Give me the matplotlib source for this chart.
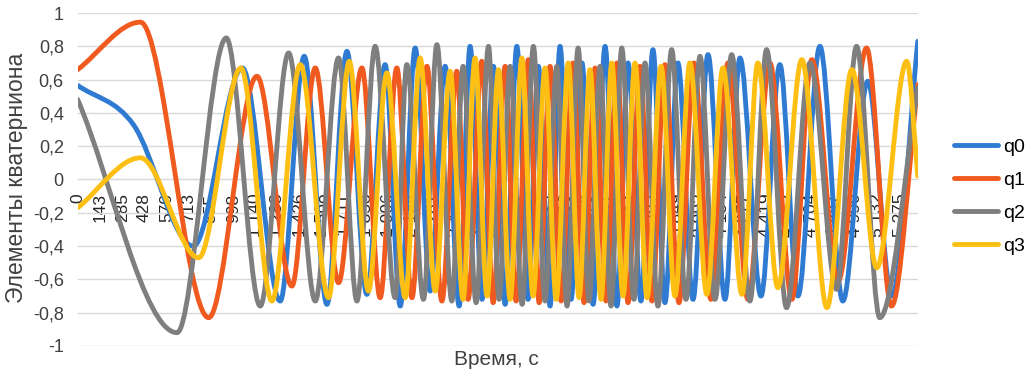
import matplotlib
matplotlib.use('Agg')
import matplotlib.pyplot as plt
from matplotlib.path import Path
from matplotlib.patches import PathPatch
from matplotlib.lines import Line2D
import numpy as np

plt.rcParams['font.family'] = ['Liberation Sans', 'DejaVu Sans']

# ---------------- data (time in s, values read at extrema) ----------------
series_names = ['q0', 'q1', 'q2', 'q3']
series_colors = ['#2f7bd2', '#f05a1e', '#7f7f7f', '#fdbf12']

q0_t = [0, 357, 742, 1056, 1299, 1453, 1599, 1727, 1855, 1972, 2069, 2165, 2261, 2357,
        2447, 2517, 2594, 2667, 2742, 2817, 2889, 2955, 3030, 3094, 3165, 3235, 3306,
        3383, 3459, 3530, 3613, 3690, 3767, 3850, 3947, 4043, 4152, 4248, 4383, 4504,
        4620, 4761, 4908, 5068, 5222, 5389]
q0_v = [0.565, 0.33, -0.40, 0.67, -0.73, 0.74, -0.75, 0.77, -0.69, 0.69, -0.76, 0.79, -0.67, 0.68,
        -0.76, 0.80, -0.72, 0.68, -0.75, 0.80, -0.72, 0.68, -0.76, 0.80, -0.72, 0.70, -0.75,
        0.80, -0.76, 0.70, -0.73, 0.78, -0.74, 0.70, -0.72, 0.75, -0.72, 0.73, -0.70, 0.69,
        -0.70, 0.80, -0.73, 0.59, -0.70, 0.83]

q1_t = [0, 402, 840, 1150, 1374, 1524, 1673, 1823, 1940, 2047, 2144, 2240, 2336, 2432,
        2504, 2592, 2665, 2742, 2812, 2891, 2960, 3030, 3101, 3177, 3248, 3319, 3389,
        3459, 3530, 3607, 3684, 3767, 3857, 3953, 4062, 4171, 4299, 4440, 4581, 4709,
        4878, 5060, 5220, 5389]
q1_v = [0.66, 0.945, -0.83, 0.62, -0.64, 0.67, -0.62, 0.67, -0.71, 0.67, -0.71, 0.68, -0.73, 0.65,
        -0.72, 0.71, -0.74, 0.68, -0.73, 0.72, -0.74, 0.68, -0.73, 0.70, -0.74, 0.67, -0.73,
        0.70, -0.74, 0.68, -0.73, 0.69, -0.74, 0.70, -0.72, 0.70, -0.72, 0.70, -0.72, 0.72,
        -0.61, 0.79, -0.76, 0.57]

q2_t = [0, 637, 953, 1171, 1353, 1524, 1673, 1791, 1908, 2036, 2111, 2218, 2304, 2400,
        2472, 2556, 2635, 2703, 2774, 2851, 2923, 2998, 3073, 3139, 3210, 3280, 3351,
        3421, 3490, 3568, 3639, 3722, 3810, 3902, 3992, 4088, 4195, 4312, 4419, 4547,
        4697, 4868, 4996, 5145, 5389]
q2_v = [0.48, -0.92, 0.85, -0.76, 0.76, -0.73, 0.73, -0.73, 0.80, -0.71, 0.69, -0.72, 0.81, -0.73,
        0.68, -0.74, 0.80, -0.72, 0.68, -0.75, 0.80, -0.73, 0.68, -0.76, 0.79, -0.73, 0.68,
        -0.76, 0.79, -0.72, 0.70, -0.76, 0.78, -0.72, 0.74, -0.72, 0.75, -0.73, 0.78, -0.77,
        0.70, -0.66, 0.80, -0.83, 0.55]

q3_t = [0, 402, 776, 1047, 1246, 1428, 1609, 1742, 1865, 1983, 2101, 2197, 2293, 2389,
        2472, 2549, 2626, 2699, 2774, 2849, 2921, 2998, 3069, 3147, 3216, 3286, 3357,
        3426, 3498, 3575, 3652, 3742, 3831, 3927, 4036, 4139, 4261, 4363, 4491, 4645,
        4806, 4966, 5126, 5318, 5389]
q3_v = [-0.17, 0.13, -0.47, 0.67, -0.73, 0.69, -0.71, 0.71, -0.67, 0.64, -0.71, 0.73, -0.67, 0.65,
        -0.72, 0.73, -0.70, 0.66, -0.72, 0.73, -0.70, 0.67, -0.72, 0.70, -0.71, 0.66, -0.72,
        0.70, -0.70, 0.70, -0.71, 0.68, -0.70, 0.70, -0.69, 0.67, -0.69, 0.70, -0.65, 0.72,
        -0.77, 0.66, -0.53, 0.71, 0.02]

x_tick_values = [0, 143, 285, 428, 570, 713, 855, 998, 1140, 1283, 1426, 1568, 1711, 1853,
                 1996, 2138, 2281, 2424, 2566, 2709, 2851, 2994, 3136, 3279, 3421, 3564,
                 3707, 3849, 3992, 4134, 4277, 4419, 4562, 4704, 4847, 4990, 5132, 5275]
x_tick_labels = ['0', '143', '285', '428', '570', '713', '855', '998', '1 140', '1 283',
                 '1 426', '1 568', '1 711', '1 853', '1 996', '2 138', '2 281', '2 424',
                 '2 566', '2 709', '2 851', '2 994', '3 136', '3 279', '3 421', '3 564',
                 '3 707', '3 849', '3 992', '4 134', '4 277', '4 419', '4 562', '4 704',
                 '4 847', '4 990', '5 132', '5 275']
y_tick_values = [-1, -0.8, -0.6, -0.4, -0.2, 0, 0.2, 0.4, 0.6, 0.8, 1]
y_tick_labels = ['-1', '-0,8', '-0,6', '-0,4', '-0,2', '0', '0,2', '0,4', '0,6', '0,8', '1']
x_label = 'Время, с'
y_label = 'Элементы кватерниона'
x_max = 5390


def smooth_path(t, v):
    """Smoothed line through the data points (like Excel's smoothed line)."""
    t = np.asarray(t, float)
    v = np.asarray(v, float)
    n = len(t)
    m = np.zeros(n)
    for i in range(n):
        if i == 0:
            m[i] = (v[1] - v[0]) / (t[1] - t[0])
        elif i == n - 1:
            m[i] = (v[-1] - v[-2]) / (t[-1] - t[-2])
        elif (v[i] - v[i - 1]) * (v[i + 1] - v[i]) <= 0:
            m[i] = 0.0
        else:
            m[i] = (v[i + 1] - v[i - 1]) / (t[i + 1] - t[i - 1])
    verts = [(t[0], v[0])]
    codes = [Path.MOVETO]
    for i in range(n - 1):
        h = t[i + 1] - t[i]
        verts += [(t[i] + h / 3, v[i] + m[i] * h / 3),
                  (t[i + 1] - h / 3, v[i + 1] - m[i + 1] * h / 3),
                  (t[i + 1], v[i + 1])]
        codes += [Path.CURVE4] * 3
    return Path(verts, codes)


fig = plt.figure(figsize=(10.32, 3.78), dpi=100)
ax = fig.add_axes([0.0753, 0.0847, 0.8142, 0.8809])

series = [(q0_t, q0_v), (q1_t, q1_v), (q2_t, q2_v), (q3_t, q3_v)]
handles = []
for k, ((t, v), name, col) in enumerate(zip(series, series_names, series_colors)):
    patch = PathPatch(smooth_path(t, v), facecolor='none', edgecolor=col, lw=3.5,
                      capstyle='round', joinstyle='round', zorder=3 + k)
    ax.add_patch(patch)
    handles.append(Line2D([], [], color=col, lw=3.5, solid_capstyle='round', label=name))

ax.set_xlim(0, x_max)
ax.set_ylim(-1, 1)

ax.set_yticks(y_tick_values)
ax.set_yticklabels(y_tick_labels, fontsize=13, color='#404040')
ax.yaxis.grid(True, color='#d9d9d9', lw=1.0)
ax.tick_params(axis='y', length=0, pad=10)

ax.spines['bottom'].set_position(('data', 0))
for s in ['top', 'right', 'left']:
    ax.spines[s].set_visible(False)
ax.spines['bottom'].set_color('#d9d9d9')
ax.set_xticks(x_tick_values)
ax.set_xticklabels(x_tick_labels, rotation=90, fontsize=12.5, color='#262626')
ax.tick_params(axis='x', length=0, pad=10)
ax.xaxis.set_zorder(1)
ax.yaxis.set_zorder(1)

fig.text(0.481, 0.05, x_label, ha='center', va='center', fontsize=15, color='#404040')
fig.text(0.016, 0.53, y_label, ha='center', va='center', rotation=90, fontsize=16.5,
         color='#404040')

fig.legend(handles=handles, loc='center left', bbox_to_anchor=(0.907, 0.48),
           frameon=False, fontsize=14, handlelength=2.3, handletextpad=0.25,
           labelspacing=0.8)

fig.savefig('out.png', dpi=100, facecolor='white')
